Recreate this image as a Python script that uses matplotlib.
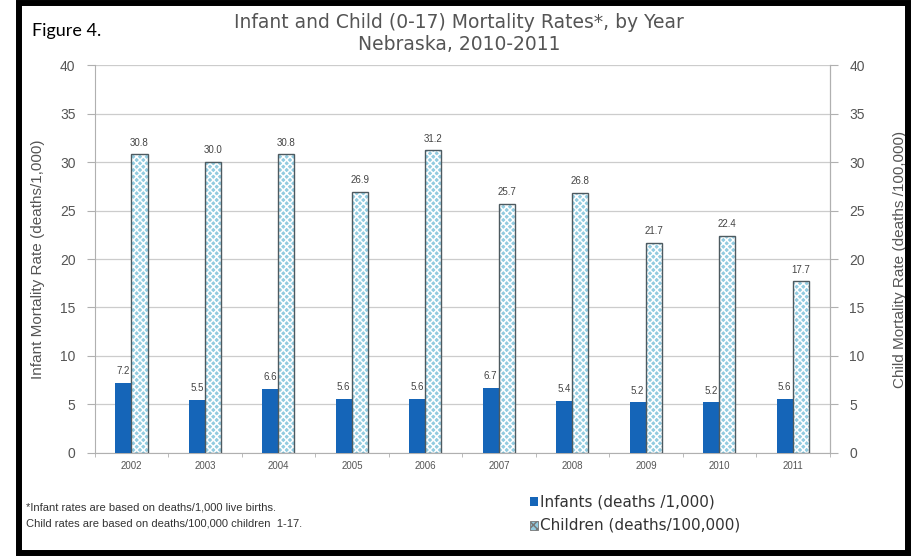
import matplotlib
matplotlib.use("Agg")
import matplotlib.pyplot as plt
from matplotlib.patches import Rectangle
import numpy as np

years = ["2002", "2003", "2004", "2005", "2006", "2007", "2008", "2009", "2010", "2011"]
infant_rates = [7.2, 5.5, 6.6, 5.6, 5.6, 6.7, 5.4, 5.2, 5.2, 5.6]
child_rates = [30.8, 30.0, 30.8, 26.9, 31.2, 25.7, 26.8, 21.7, 22.4, 17.7]

plt.rcParams["font.family"] = ["Liberation Sans", "DejaVu Sans"]
plt.rcParams["hatch.linewidth"] = 1.1

grey_text = "#555555"
axis_grey = "#b0b0b0"
infant_color = "#1565b8"
child_face = "#92cbe0"
wide = ["DejaVu Sans"]

fig = plt.figure(figsize=(9.13, 5.57), dpi=100)
ax = fig.add_axes([0.104, 0.187, 0.805, 0.696])

x = np.arange(len(years))
w = 0.22

ax.bar(x - w / 2 - 0.005, infant_rates, width=w, color=infant_color, zorder=3)
ax.bar(x + w / 2 - 0.005, child_rates, width=w, facecolor=child_face,
       edgecolor="white", hatch="xxxxx", linewidth=0, zorder=3)
ax.bar(x + w / 2 - 0.005, child_rates, width=w, facecolor="none",
       edgecolor="#4d5a60", linewidth=1.0, zorder=4)

for xi, v in zip(x, infant_rates):
    ax.text(xi - w / 2 - 0.005, v + 0.7, f"{v:.1f}", ha="center", va="bottom",
            fontsize=7, color="#444444")
for xi, v in zip(x, child_rates):
    ax.text(xi + w / 2 - 0.005, v + 0.7, f"{v:.1f}", ha="center", va="bottom",
            fontsize=7, color="#444444")

ax.set_xlim(-0.5, len(years) - 0.5)
ax.set_ylim(0, 40)
ax.set_yticks(np.arange(0, 41, 5))
ax.set_xticks(x)
ax.set_xticklabels(years, fontsize=7, color=grey_text)
ax.set_xticks(np.arange(-0.5, len(years), 1), minor=True)
ax.tick_params(axis="x", which="major", length=0, pad=6)
ax.tick_params(axis="x", which="minor", length=3, color=axis_grey)
ax.tick_params(axis="y", length=6, color=axis_grey, labelsize=10,
               labelcolor=grey_text, pad=8)
ax.yaxis.grid(True, color="#cccccc", linewidth=0.9, zorder=0)
ax.set_axisbelow(True)
for side in ["left", "bottom", "right"]:
    ax.spines[side].set_color(axis_grey)
ax.spines["top"].set_visible(False)
ax.set_ylabel("Infant Mortality Rate (deaths/1,000)", fontsize=11,
              color=grey_text, labelpad=11)

ax2 = ax.twinx()
ax2.set_ylim(0, 40)
ax2.set_yticks(np.arange(0, 41, 5))
ax2.tick_params(axis="y", length=6, color=axis_grey, labelsize=10,
                labelcolor=grey_text, pad=8)
for side in ["left", "bottom", "right", "top"]:
    ax2.spines[side].set_visible(False)
ax2.spines["right"].set_visible(True)
ax2.spines["right"].set_color(axis_grey)
ax2.set_ylabel("Child Mortality Rate (deaths /100,000)", fontsize=11,
               color=grey_text, labelpad=20, rotation=90)

# titles
fig.text(0.503, 0.960, "Infant and Child (0-17) Mortality Rates*, by Year",
         ha="center", va="center", fontsize=13.5, color=grey_text, family=wide)
fig.text(0.503, 0.920, "Nebraska, 2010-2011", ha="center", va="center",
         fontsize=13.5, color=grey_text, family=wide)
fig.text(0.035, 0.945, "Figure 4.", ha="left", va="center", fontsize=13,
         color="black", family=["Lato", "DejaVu Sans"])

# legend
leg_x = 0.580
fig.patches.append(Rectangle((leg_x, 0.091), 0.0095, 0.016, transform=fig.transFigure,
                             facecolor=infant_color, edgecolor="none"))
fig.text(leg_x + 0.012, 0.099, "Infants (deaths /1,000)", ha="left", va="center",
         fontsize=11, color="#333333", family=wide)
fig.patches.append(Rectangle((leg_x, 0.049), 0.0095, 0.016, transform=fig.transFigure,
                             facecolor=child_face, edgecolor="#777777",
                             linewidth=0.6, hatch="xxxx"))
fig.text(leg_x + 0.012, 0.057, "Children (deaths/100,000)", ha="left", va="center",
         fontsize=11, color="#333333", family=wide)

# footnote
fig.text(0.029, 0.088, "*Infant rates are based on deaths/1,000 live births.",
         ha="left", va="center", fontsize=8, color="#333333")
fig.text(0.029, 0.061, "Child rates are based on deaths/100,000 children  1-17.",
         ha="left", va="center", fontsize=8, color="#333333")

# outer frame
fig.patches.append(Rectangle((0.0203, 0.0072), 0.9742, 0.9874, transform=fig.transFigure,
                             facecolor="none", edgecolor="black", linewidth=4.3))

fig.savefig("out.png", dpi=100)
